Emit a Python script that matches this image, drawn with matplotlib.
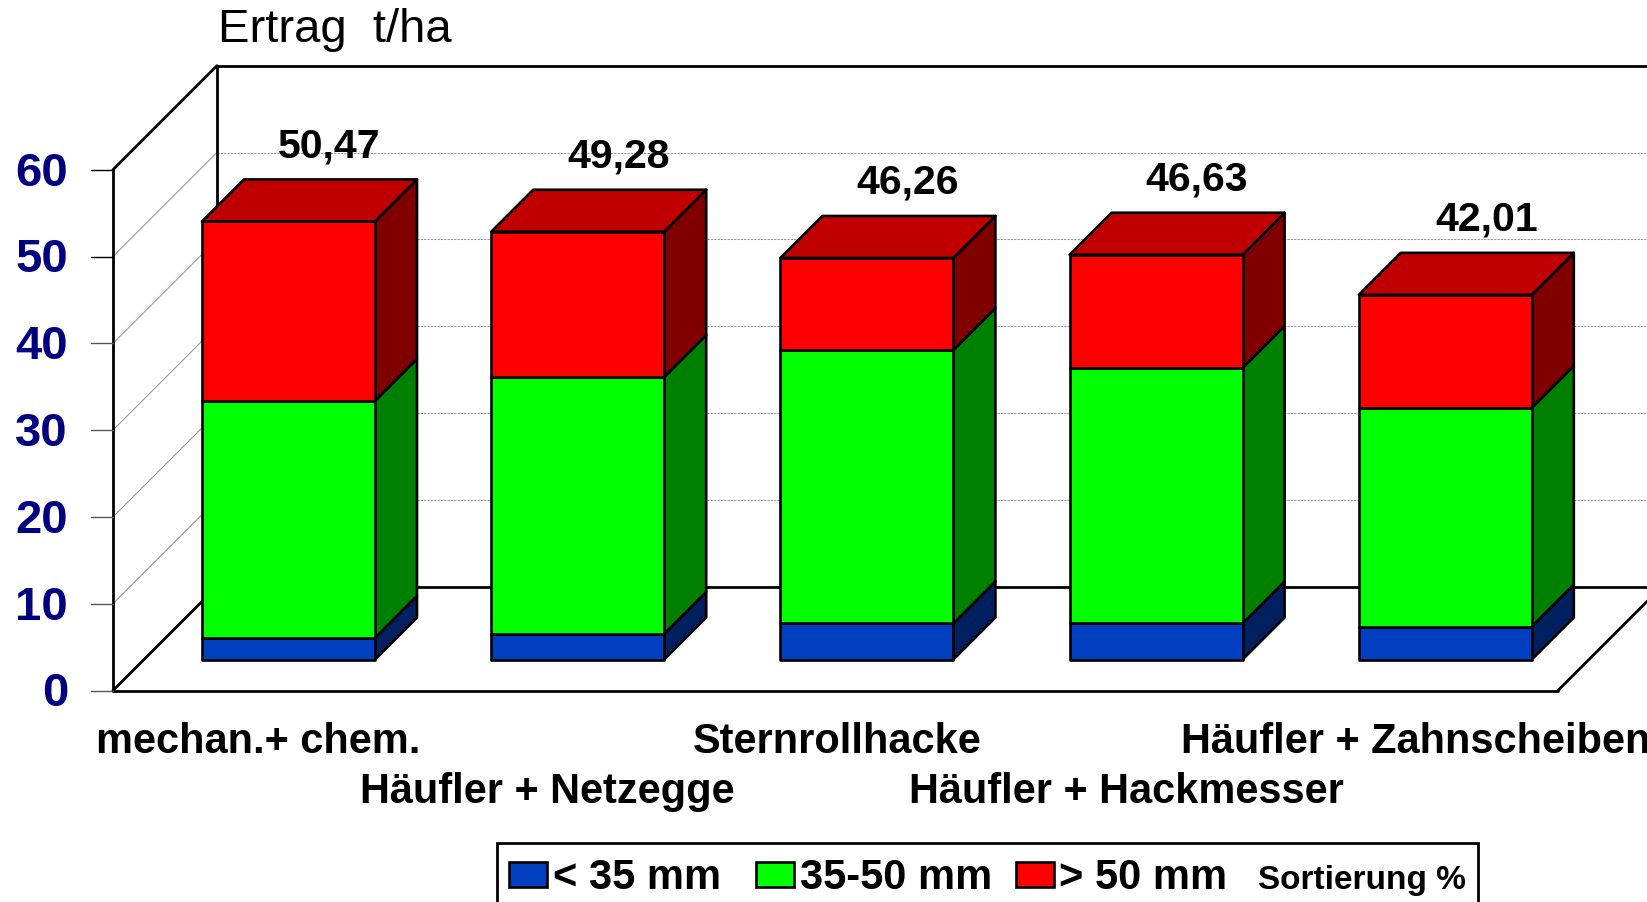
import matplotlib
matplotlib.use("Agg")
import matplotlib.pyplot as plt
from matplotlib.patches import Polygon, Rectangle

plt.rcParams["font.family"] = ["Liberation Sans", "DejaVu Sans"]

categories = ["mechan.+ chem.", "Häufler + Netzegge", "Sternrollhacke",
              "Häufler + Hackmesser", "Häufler + Zahnscheiben"]
small = [2.5, 2.95, 4.15, 4.15, 3.8]
medium = [27.3, 29.6, 31.5, 29.45, 25.2]
large = [20.67, 16.73, 10.61, 13.03, 13.01]
totals = ["50,47", "49,28", "46,26", "46,63", "42,01"]
y_ticks = [0, 10, 20, 30, 40, 50, 60]
legend_labels = ["< 35 mm", "35-50 mm", "> 50 mm"]

W, H = 1647, 902
X0, STEP = 288.5, 289.2     # px of first bar centre, px between bars
Y0, UNIT = 690.5, 8.68      # px of value 0, px per value unit
DEPTH = 104                 # floor depth in px
BAR_D0, BAR_D = 31, 42      # bar front offset and bar depth in px
BAR_W = 173

fig = plt.figure(figsize=(W / 100, H / 100), dpi=100)
ax = fig.add_axes([0, 0, 1, 1])
ax.set_xlim(-X0 / STEP, (W - X0) / STEP)
ax.set_ylim((Y0 - H) / UNIT, Y0 / UNIT)
ax.axis("off")

# overlay in pixels for the legend and title
over = fig.add_axes([0, 0, 1, 1], zorder=5)
over.set_xlim(0, W)
over.set_ylim(H, 0)
over.axis("off")
over.patch.set_alpha(0)


def proj(x, v, d):
    # oblique projection: d px of depth go right and up
    return x + d / STEP, v + d / UNIT


def line(p, q, **kw):
    kw.setdefault("color", "black")
    kw.setdefault("lw", 2.0)
    kw.setdefault("zorder", 2)
    kw.setdefault("solid_capstyle", "round")
    ax.plot([p[0], q[0]], [p[1], q[1]], **kw)


left = (113 - X0) / STEP
right = (1558 - X0) / STEP
edge = (W + 5 - X0) / STEP

# grid lines on walls
for v in y_ticks[1:-1]:
    line(proj(left, v, 0), proj(left, v, DEPTH), color="#999999", lw=0.8, zorder=1)
    line(proj(left, v, DEPTH), (edge, proj(left, v, DEPTH)[1]), color="#999999",
         lw=0.8, ls=(0, (2, 1)), zorder=1)

# frame
line((left, 0), (left, 60))
line(proj(left, 0, DEPTH), proj(left, 60, DEPTH))
line((left, 60), proj(left, 60, DEPTH))
line(proj(left, 60, DEPTH), (edge, proj(left, 60, DEPTH)[1]))
line((left, 0), proj(left, 0, DEPTH))
line(proj(left, 0, DEPTH), (edge, proj(left, 0, DEPTH)[1]))
line((left, 0), (right, 0))
line((right, 0), proj(right, 0, DEPTH))

# y ticks
tick_x = (91 - X0) / STEP
for v in y_ticks:
    c = "black" if v >= 50 else "#555555"
    line((tick_x, v), (left, v), color=c, lw=1.0)
    ax.text((68 - X0) / STEP, v - 0.45, str(v), ha="right", va="center",
            fontsize=34, fontweight="bold", color="#000080")

front_colors = ["#0040C0", "#00FF00", "#FF0000"]
side_colors = ["#002060", "#008000", "#800000"]
top_color = "#C00000"
half = BAR_W / 2 / STEP
base = BAR_D0 * 1.0 / UNIT


def bar(i):
    x0, x1 = i - half, i + half
    bottom = 0
    for vals, fc, sc in zip([small, medium, large], front_colors, side_colors):
        h = vals[i]
        top = bottom + h
        front = [proj(x0, bottom, BAR_D0), proj(x1, bottom, BAR_D0),
                 proj(x1, top, BAR_D0), proj(x0, top, BAR_D0)]
        side = [proj(x1, bottom, BAR_D0), proj(x1, bottom, BAR_D0 + BAR_D),
                proj(x1, top, BAR_D0 + BAR_D), proj(x1, top, BAR_D0)]
        # bar x positions are measured on the front face, so undo the shift
        shift = BAR_D0 / STEP
        front = [(p[0] - shift, p[1]) for p in front]
        side = [(p[0] - shift, p[1]) for p in side]
        ax.add_patch(Polygon(side, fc=sc, ec="black", lw=1.9, zorder=3, joinstyle="round"))
        ax.add_patch(Polygon(front, fc=fc, ec="black", lw=1.9, zorder=3, joinstyle="round"))
        bottom = top
    lid = [proj(x0, bottom, BAR_D0), proj(x1, bottom, BAR_D0),
           proj(x1, bottom, BAR_D0 + BAR_D), proj(x0, bottom, BAR_D0 + BAR_D)]
    lid = [(p[0] - BAR_D0 / STEP, p[1]) for p in lid]
    ax.add_patch(Polygon(lid, fc=top_color, ec="black", lw=1.9, zorder=3, joinstyle="round"))
    ax.text(i + 41 / STEP, bottom + base + (221 - 146) / UNIT, totals[i], ha="center",
            va="center", fontsize=29.5, fontweight="bold", zorder=6)


for i in range(len(categories)):
    bar(i)

# category labels, staggered on two rows
for i, name in enumerate(categories):
    y = (Y0 - 742) / UNIT if i % 2 == 0 else (Y0 - 792) / UNIT
    ax.text(i - 30 / STEP, y, name, ha="center", va="center", fontsize=29.9, fontweight="bold")

over.text(218, 30, "Ertrag  t/ha", fontsize=34, ha="left", va="center")

# legend box runs off the bottom
over.add_patch(Rectangle((497, 843), 981, 80, fc="white", ec="black", lw=2.0))
swatch_x = [509, 756, 1016]
text_x = [553, 800, 1059]
for sx, tx, c, lab in zip(swatch_x, text_x, front_colors, legend_labels):
    over.add_patch(Rectangle((sx, 862), 38, 25, fc=c, ec="black", lw=1.9))
    over.text(tx, 878, lab, fontsize=30, fontweight="bold", ha="left", va="center")
over.text(1258, 880, "Sortierung %", fontsize=24, fontweight="bold", ha="left", va="center")

fig.savefig("out.png", dpi=100)
